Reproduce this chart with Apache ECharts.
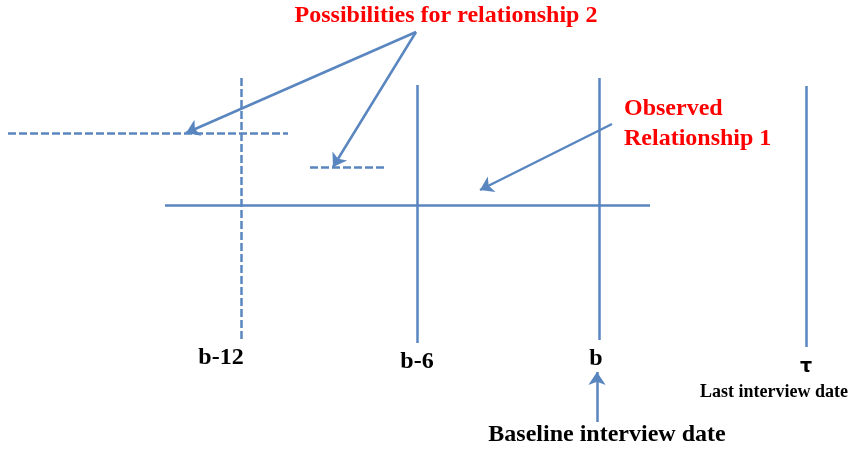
<!DOCTYPE html>
<html><head><meta charset="utf-8">
<script src="https://cdn.jsdelivr.net/npm/echarts@6/dist/echarts.min.js"></script>
<style>html,body{margin:0;padding:0;background:#fff}#c{width:852px;height:451px}</style>
</head><body><div id="c"></div>
<script>
// Diagram coordinates (x: horizontal position, y: vertical position, top = 0)
const tickLabels = ['b-12', 'b-6', 'b', 'τ'];
const tickX = [241, 417, 599, 806];
const tickTop = [78, 85, 78, 86];
const tickBottom = [340, 343, 340, 347];
const tickDashed = [true, false, false, false];
const tickLabelPos = [[221, 358], [417, 362], [596, 359], [806, 367]];

const observedLine = [[165, 205], [650, 205]];
const possibleLines = [
  [[8, 133], [288, 133]],
  [[310, 167], [386, 167]]
];
const arrows = [
  [[416, 32], [186, 133]],
  [[416, 32], [333, 167]],
  [[612, 124], [480, 190]],
  [[597, 422], [597, 372]]
];
const redTexts = [
  { name: 'Possibilities for relationship 2', pos: [446, 16], align: 'center' },
  { name: 'Observed\nRelationship 1', pos: [624, 124], align: 'left' }
];
const blackTexts = [
  { name: 'Last interview date', pos: [774, 392], size: 18 },
  { name: 'Baseline interview date', pos: [607, 435], size: 24 }
];

const blue = '#5a86c0';
const solidSegs = [], dashedSegs = [];
tickX.forEach((x, i) => {
  const seg = { coords: [[x, tickTop[i]], [x, tickBottom[i]]] };
  (tickDashed[i] ? dashedSegs : solidSegs).push(seg);
});
solidSegs.push({ coords: observedLine });
possibleLines.forEach(c => dashedSegs.push({ coords: c }));

const serif = '"Liberation Serif", "Times New Roman", serif';
const baseLabel = { show: true, position: 'inside', formatter: p => p.name, opacity: 1,
  fontWeight: 'bold', fontFamily: serif, textBorderWidth: 0, textShadowBlur: 0 };

const chart = echarts.init(document.getElementById('c'), null, { renderer: 'canvas' });
chart.setOption({
  animation: false,
  backgroundColor: '#ffffff',
  grid: { left: 0, right: 0, top: 0, bottom: 0 },
  xAxis: { type: 'value', min: 0, max: 852, show: false },
  yAxis: { type: 'value', min: 0, max: 451, inverse: true, show: false },
  series: [
    {
      type: 'lines', coordinateSystem: 'cartesian2d',
      lineStyle: { color: blue, width: 2.5, type: 'solid', opacity: 1 },
      data: solidSegs, silent: true
    },
    {
      type: 'lines', coordinateSystem: 'cartesian2d',
      lineStyle: { color: blue, width: 2.5, type: [8, 3], opacity: 1 },
      data: dashedSegs, silent: true
    },
    {
      type: 'lines', coordinateSystem: 'cartesian2d',
      symbol: ['none', 'arrow'], symbolSize: [0, 13],
      lineStyle: { color: blue, width: 2.5, opacity: 1 },
      itemStyle: { color: blue },
      data: arrows.map(c => ({ coords: c })), silent: true
    },
    {
      type: 'scatter', symbolSize: 0, silent: true, itemStyle: { color: '#000', opacity: 1 },
      data: tickLabels.map((t, i) => ({ name: t, value: tickLabelPos[i],
        label: i === 3 ? { fontSize: 19, fontFamily: '"DejaVu Sans", sans-serif' } : { fontSize: 24 } })),
      label: Object.assign({}, baseLabel, { color: '#000' })
    },
    {
      type: 'scatter', symbolSize: 0, silent: true, itemStyle: { color: '#000', opacity: 1 },
      data: blackTexts.map(t => ({ name: t.name, value: t.pos, label: { fontSize: t.size } })),
      label: Object.assign({}, baseLabel, { color: '#000' })
    },
    {
      type: 'scatter', symbolSize: 0, silent: true, itemStyle: { color: '#ff0000', opacity: 1 },
      data: redTexts.map(t => ({ name: t.name, value: t.pos, label: { align: t.align } })),
      label: Object.assign({}, baseLabel, { color: '#ff0000', fontSize: 24, lineHeight: 30 })
    }
  ]
});
</script></body></html>
